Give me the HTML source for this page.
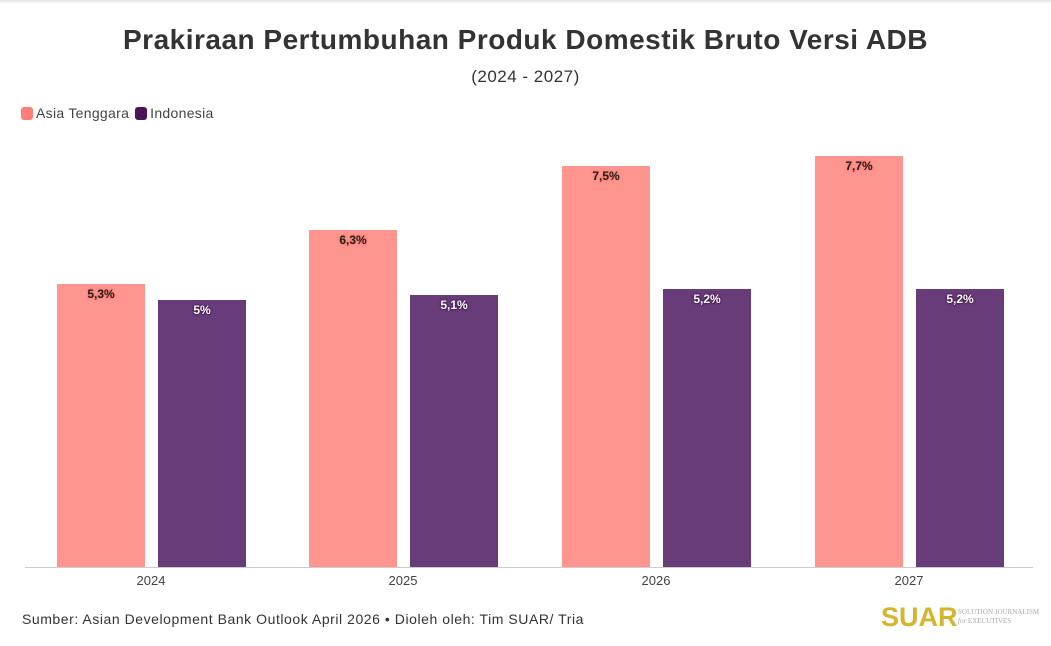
<!DOCTYPE html>
<html><head><meta charset="utf-8"><style>
body{margin:0;width:1051px;height:646px;background:#fff;position:relative;overflow:hidden;font-family:"Liberation Sans","DejaVu Sans",sans-serif}
.t{position:absolute;left:0;width:1051px;text-align:center}
.b{position:absolute;}
.p{background:#FF958E}
.u{background:#683C79}
.l{position:absolute;width:88px;text-align:center;font-size:12px;font-weight:bold}
.lp{color:#222;text-shadow:0 0 2px #ff6f66,0 0 2px #ff6f66}
.lu{color:#fff;text-shadow:0 0 2px #3a0f48,0 0 2px #3a0f48}
.x{position:absolute;top:573px;width:100px;text-align:center;font-size:13px;color:#444}
</style></head><body>
<div style="position:absolute;left:0;top:0;width:1051px;height:4px;background:linear-gradient(#e2e2e2,#fff)"></div>
<div class="t" style="top:24px;font-size:28px;font-weight:bold;color:#333;letter-spacing:0.5px">Prakiraan Pertumbuhan Produk Domestik Bruto Versi ADB</div>
<div class="t" style="top:67px;font-size:17px;color:#333;letter-spacing:0.5px">(2024 - 2027)</div>
<div style="position:absolute;left:21px;top:105px;font-size:14px;color:#444;display:flex;align-items:center;letter-spacing:0.3px">
<span style="display:inline-block;width:12px;height:13px;border-radius:3px;background:#FF7F78;margin-right:3px"></span>Asia Tenggara
<span style="display:inline-block;width:12px;height:13px;border-radius:3px;background:#4A1457;margin:0 3px 0 6px"></span>Indonesia</div>

<div class="b p" style="left:57px;top:284px;width:88px;height:283px"></div>
<div class="b u" style="left:158px;top:300px;width:88px;height:267px"></div>
<div class="b p" style="left:309px;top:230px;width:88px;height:337px"></div>
<div class="b u" style="left:410px;top:295px;width:88px;height:272px"></div>
<div class="b p" style="left:562px;top:166px;width:88px;height:401px"></div>
<div class="b u" style="left:663px;top:289px;width:88px;height:278px"></div>
<div class="b p" style="left:815px;top:156px;width:88px;height:411px"></div>
<div class="b u" style="left:916px;top:289px;width:88px;height:278px"></div>

<div class="l lp" style="left:57px;top:287px">5,3%</div>
<div class="l lu" style="left:158px;top:303px">5%</div>
<div class="l lp" style="left:309px;top:233px">6,3%</div>
<div class="l lu" style="left:410px;top:298px">5,1%</div>
<div class="l lp" style="left:562px;top:169px">7,5%</div>
<div class="l lu" style="left:663px;top:292px">5,2%</div>
<div class="l lp" style="left:815px;top:159px">7,7%</div>
<div class="l lu" style="left:916px;top:292px">5,2%</div>

<div style="position:absolute;left:25px;top:567px;width:1008px;height:1px;background:#ccc"></div>
<div class="x" style="left:101px">2024</div>
<div class="x" style="left:353px">2025</div>
<div class="x" style="left:606px">2026</div>
<div class="x" style="left:859px">2027</div>

<div style="position:absolute;left:22px;top:611px;font-size:14px;color:#333;letter-spacing:0.55px">Sumber: Asian Development Bank Outlook April 2026 • Dioleh oleh: Tim SUAR/ Tria</div>
<div style="position:absolute;left:881px;top:602px;font-size:27px;font-weight:bold;color:#D4B52E">SUAR</div>
<div style="position:absolute;left:958px;top:608px;font-size:7px;line-height:9px;color:#aaa;font-family:'Liberation Serif',serif">SOLUTION JOURNALISM<br><i>for</i> EXECUTIVES</div>
</body></html>
